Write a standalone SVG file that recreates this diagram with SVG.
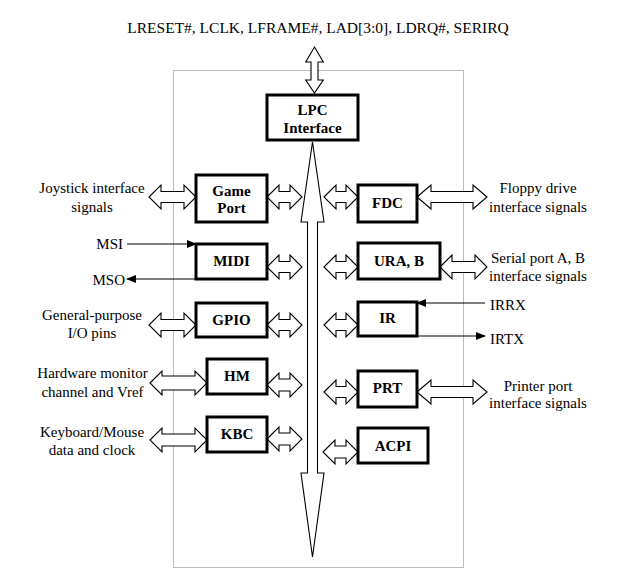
<svg xmlns="http://www.w3.org/2000/svg" width="620" height="587" viewBox="0 0 620 587">
<style>
text{font-family:"Liberation Serif","Times New Roman",serif;fill:#000}
.lbl{font-size:15px;text-anchor:middle}
.lbl2{font-size:15px}
.top{font-size:15.5px;text-anchor:middle}
.bt{font-size:15px;font-weight:bold;text-anchor:middle}
.box{fill:#fff;stroke:#000;stroke-width:3}
.ha{fill:#fff;stroke:#000;stroke-width:1.1;stroke-linejoin:miter}
.ln{stroke:#000;stroke-width:1.1;fill:none}
.border{fill:none;stroke:#777;stroke-width:1;stroke-dasharray:1 1}
</style>
<defs>
<marker id="ah" markerWidth="10" markerHeight="8" refX="9" refY="4" orient="auto" markerUnits="userSpaceOnUse">
<path d="M0,0 L10,4 L0,8 Z" fill="#000"/>
</marker>
</defs>
<rect width="620" height="587" fill="#fff"/>
<rect class="border" x="173.5" y="70.5" width="290" height="497"/>
<text class="top" x="318" y="33">LRESET#, LCLK, LFRAME#, LAD[3:0], LDRQ#, SERIRQ</text>

<g id="connectors">
<polygon class="ha" points="314.5,47 323.3,62 318,62 318,80 323.3,80 314.5,93 305.7,80 311,80 311,62 305.7,62"/>
<polygon class="ha" points="312.5,142 324,222 317.5,222 317.5,473 324,473 312.5,557 301,473 307.5,473 307.5,222 301,222"/>
<!-- row 1 -->
<polygon class="ha" points="149,197 161,185 161,191.5 184,191.5 184,185 196,197 184,209 184,202.5 161,202.5 161,209"/>
<polygon class="ha" points="267,197 279,185 279,191.5 290,191.5 290,185 302,197 290,209 290,202.5 279,202.5 279,209"/>
<polygon class="ha" points="324,197 336,185 336,191.5 346,191.5 346,185 358,197 346,209 346,202.5 336,202.5 336,209"/>
<polygon class="ha" points="417,197 431,185 431,191.5 473,191.5 473,185 487,197 473,209 473,202.5 431,202.5 431,209"/>
<!-- row 2 -->
<polygon class="ha" points="267,267 279,255 279,261.5 290,261.5 290,255 302,267 290,279 290,272.5 279,272.5 279,279"/>
<polygon class="ha" points="324,267 336,255 336,261.5 346,261.5 346,255 358,267 346,279 346,272.5 336,272.5 336,279"/>
<polygon class="ha" points="440,267 452,255 452,261.5 475,261.5 475,255 487,267 475,279 475,272.5 452,272.5 452,279"/>
<!-- row 3 -->
<polygon class="ha" points="149,325 161,313 161,319.5 184,319.5 184,313 196,325 184,337 184,330.5 161,330.5 161,337"/>
<polygon class="ha" points="267,325 279,313 279,319.5 290,319.5 290,313 302,325 290,337 290,330.5 279,330.5 279,337"/>
<polygon class="ha" points="324,325 336,313 336,319.5 346,319.5 346,313 358,325 346,337 346,330.5 336,330.5 336,337"/>
<!-- row 4 -->
<polygon class="ha" points="150,383 162,371 162,376 195,376 195,371 207,383 195,395 195,390 162,390 162,395"/>
<polygon class="ha" points="267,385 279,373 279,379 290,379 290,373 302,385 290,397 290,391 279,391 279,397"/>
<polygon class="ha" points="324,392 336,380 336,386.5 346,386.5 346,380 358,392 346,404 346,397.5 336,397.5 336,404"/>
<polygon class="ha" points="417,392 431,380 431,386.5 473,386.5 473,380 487,392 473,404 473,397.5 431,397.5 431,404"/>
<!-- row 5 -->
<polygon class="ha" points="150,440 162,428 162,434 195,434 195,428 207,440 195,452 195,446 162,446 162,452"/>
<polygon class="ha" points="267,439 279,427 279,433 290,433 290,427 302,439 290,451 290,445 279,445 279,451"/>
<polygon class="ha" points="323,452 335,440 335,446 346,446 346,440 358,452 346,464 346,458 335,458 335,464"/>
<!-- single-line signals -->
<line class="ln" x1="127" y1="244" x2="196" y2="244" marker-end="url(#ah)"/>
<line class="ln" x1="196" y1="279" x2="127" y2="279" marker-end="url(#ah)"/>
<line class="ln" x1="485" y1="303" x2="417" y2="303" marker-end="url(#ah)"/>
<line class="ln" x1="417" y1="336" x2="485" y2="336" marker-end="url(#ah)"/>
</g>

<g id="lpc"><rect class="box" x="267" y="95" width="91" height="45"/><text class="bt" x="312.5" y="115">LPC</text><text class="bt" x="312.5" y="133">Interface</text></g>
<g id="gameport"><rect class="box" x="196" y="175" width="71" height="47"/><text class="bt" x="231.5" y="196">Game</text><text class="bt" x="231.5" y="213">Port</text></g>
<g id="midi"><rect class="box" x="196" y="244" width="71" height="35"/><text class="bt" x="231.5" y="266">MIDI</text></g>
<g id="gpio"><rect class="box" x="196" y="303" width="71" height="34"/><text class="bt" x="231.5" y="325">GPIO</text></g>
<g id="hm"><rect class="box" x="207" y="359" width="60" height="35"/><text class="bt" x="237" y="381">HM</text></g>
<g id="kbc"><rect class="box" x="207" y="417" width="60" height="35"/><text class="bt" x="237" y="439">KBC</text></g>
<g id="fdc"><rect class="box" x="358" y="185" width="59" height="37"/><text class="bt" x="387.5" y="208">FDC</text></g>
<g id="ura"><rect class="box" x="358" y="243" width="82" height="36"/><text class="bt" x="399" y="266">URA, B</text></g>
<g id="ir"><rect class="box" x="358" y="302" width="59" height="34"/><text class="bt" x="387.5" y="323">IR</text></g>
<g id="prt"><rect class="box" x="358" y="371" width="59" height="36"/><text class="bt" x="387.5" y="393">PRT</text></g>
<g id="acpi"><rect class="box" x="358" y="428" width="70" height="35"/><text class="bt" x="393" y="451">ACPI</text></g>

<g id="labels">
<text class="lbl" x="92" y="193">Joystick interface</text>
<text class="lbl" x="92" y="212">signals</text>
<text class="lbl2" x="123" y="249" text-anchor="end">MSI</text>
<text class="lbl2" x="125" y="285" text-anchor="end">MSO</text>
<text class="lbl" x="92" y="320">General-purpose</text>
<text class="lbl" x="92" y="338">I/O pins</text>
<text class="lbl" x="92.5" y="378">Hardware monitor</text>
<text class="lbl" x="92.5" y="397">channel and Vref</text>
<text class="lbl" x="92" y="437">Keyboard/Mouse</text>
<text class="lbl" x="92" y="455">data and clock</text>
<text class="lbl" x="538" y="193">Floppy drive</text>
<text class="lbl" x="538" y="212">interface signals</text>
<text class="lbl" x="538" y="263">Serial port A, B</text>
<text class="lbl" x="538" y="281">interface signals</text>
<text class="lbl2" x="490" y="310">IRRX</text>
<text class="lbl2" x="490" y="344">IRTX</text>
<text class="lbl" x="538" y="391">Printer port</text>
<text class="lbl" x="538" y="408">interface signals</text>
</g>
</svg>
